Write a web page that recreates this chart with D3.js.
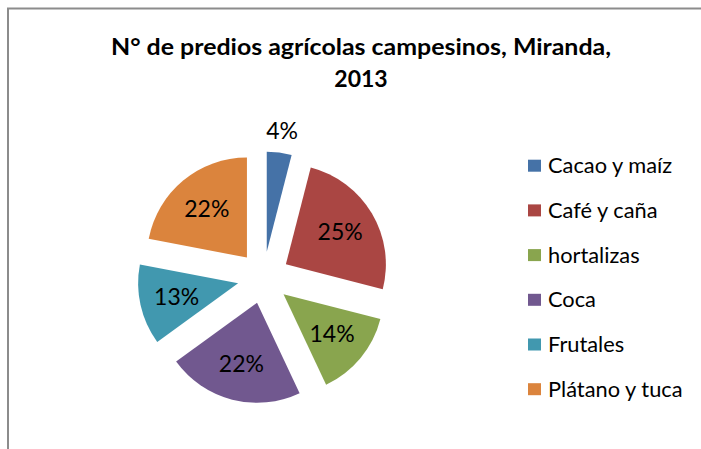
<!DOCTYPE html>
<html>
<head>
<meta charset="utf-8">
<script src="https://cdn.jsdelivr.net/npm/d3@7"></script>
<style>
	body { margin: 0; background: #fff; }
	svg { display: block; }
	text { font-family: Lato, "Open Sans", sans-serif; fill: #000; }
</style>
</head>
<body>
<div id="chart"></div>
<script>
// data
var categories = ["Cacao y maíz", "Café y caña", "hortalizas", "Coca", "Frutales", "Plátano y tuca"];
var values = [4, 25, 14, 22, 13, 22];
var colors = ["#4572A7", "#AA4643", "#89A54E", "#71588F", "#4198AF", "#DB843D"];
var titleLines = ["N° de predios agrícolas campesinos, Miranda,", "2013"];

var width = 701, height = 449;
var cx = 263.5, cy = 277.6, radius = 100, explode = 26;

// set up svg
var svg = d3.select("#chart").append("svg")
	.attr("width", width)
	.attr("height", height);

// chart border (runs off the right and bottom edge)
svg.append("rect")
	.attr("x", 8)
	.attr("y", 8.5)
	.attr("width", width + 20)
	.attr("height", height + 20)
	.attr("fill", "none")
	.attr("stroke", "#8c8c8c")
	.attr("stroke-width", 2);

// title
var title = svg.append("g").selectAll("text")
	.data(titleLines)
	.enter().append("text")
	.attr("x", 361)
	.attr("y", function(d, i) { return 55 + i * 32; })
	.attr("text-anchor", "middle")
	.style("font-weight", "bold")
	.style("font-size", "23px")
	.text(function(d) { return d; });

// first line is wider in the original font
title.filter(function(d, i) { return i === 0; })
	.attr("textLength", 500)
	.attr("lengthAdjust", "spacingAndGlyphs");

// pie layout
var pie = d3.pie().sort(null).value(function(d) { return d; });
var arcs = pie(values);
var total = d3.sum(values);
var arc = d3.arc().innerRadius(0).outerRadius(radius);

var slice = svg.append("g")
	.attr("transform", "translate(" + cx + "," + cy + ")")
	.selectAll("g")
	.data(arcs)
	.enter().append("g")
	.attr("transform", function(d) {
		var a = (d.startAngle + d.endAngle) / 2;
		return "translate(" + (Math.sin(a) * explode) + "," + (-Math.cos(a) * explode) + ")";
	});

slice.append("path")
	.attr("d", arc)
	.attr("fill", function(d, i) { return colors[i]; });

// labels, small slices go outside
function labelRadius(d) {
	return d.value / total < 0.05 ? radius * 1.22 : radius * 0.63;
}

slice.append("text")
	.attr("x", function(d) {
		var a = (d.startAngle + d.endAngle) / 2;
		return Math.sin(a) * labelRadius(d);
	})
	.attr("y", function(d) {
		var a = (d.startAngle + d.endAngle) / 2;
		return -Math.cos(a) * labelRadius(d);
	})
	.attr("dy", ".35em")
	.attr("text-anchor", "middle")
	.style("font-size", "23px")
	.text(function(d) { return Math.round(d.value / total * 100) + "%"; });

// legend
var legend = svg.append("g").selectAll("g")
	.data(categories)
	.enter().append("g")
	.attr("transform", function(d, i) { return "translate(528," + (165.7 + i * 44.7) + ")"; });

legend.append("rect")
	.attr("x", 0)
	.attr("y", -6)
	.attr("width", 13)
	.attr("height", 12)
	.attr("fill", function(d, i) { return colors[i]; });

legend.append("text")
	.attr("x", 20)
	.attr("dy", ".35em")
	.style("font-size", "21.8px")
	.text(function(d) { return d; });
</script>
</body>
</html>
